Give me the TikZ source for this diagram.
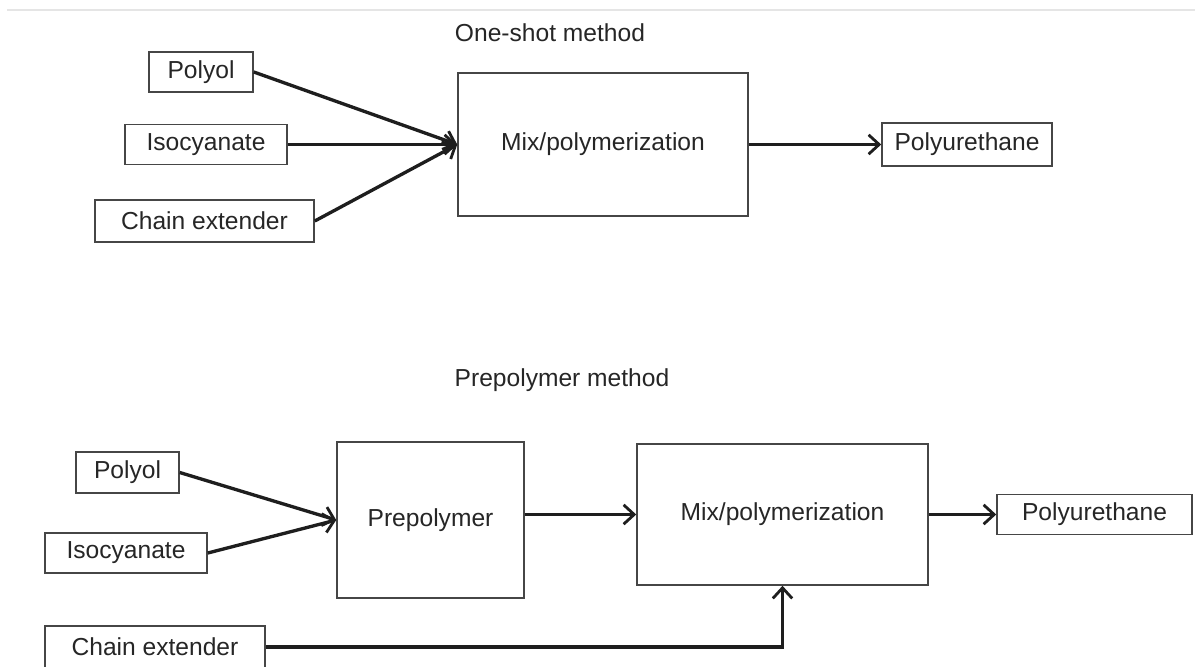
\documentclass[tikz,border=0pt]{standalone}
\usepackage{fontspec}
\setmainfont{Liberation Sans}
\usepackage{tikz}
\usetikzlibrary{arrows.meta, positioning}
\definecolor{boxline}{RGB}{70, 70, 70}
\definecolor{arrowline}{RGB}{30, 30, 30}

\begin{document}
\begin{tikzpicture}[
	x=0.02cm, y=-0.02cm,
	block/.style={rectangle, draw=boxline, line width=0.9pt, fill=white, inner sep=0pt, font=\fontsize{14}{16}\selectfont, text=black!85},
	title/.style={font=\fontsize{14}{16}\selectfont, text=black!85},
	flow/.style={draw=arrowline, line width=1.9pt, -{Straight Barb[length=6pt, width=11pt, line width=1.6pt]}}
	]
	\useasboundingbox (0,0) rectangle (1195,666);
	% thin rule at the top
	\draw[black!10, line width=1.2pt] (7,10) -- (1195,10);
	
	% One-shot method
	\node[title] (t1) at (550,33) {One-shot method};
	\node[block, minimum width=2.08cm, minimum height=0.8cm] (pol1) at (201,72) {Polyol};
	\node[block, minimum width=3.24cm, minimum height=0.8cm] (iso1) at (206,144.5) {Isocyanate};
	\node[block, minimum width=4.38cm, minimum height=0.84cm] (ext1) at (204.5,221) {Chain extender};
	\node[block, minimum width=5.8cm, minimum height=2.86cm] (mix1) at (603,144.5) {Mix/polymerization};
	\node[block, minimum width=3.4cm, minimum height=0.86cm] (pu1) at (967,144.5) {Polyurethane};
	
	\draw[flow] (pol1.east) -- (mix1.west);
	\draw[flow] (iso1.east) -- (mix1.west);
	\draw[flow] (ext1.east) -- (mix1.west);
	\draw[flow] (mix1.east) -- (pu1.west);
	
	% Prepolymer method
	\node[title] (t2) at (562,380) {Prepolymer method};
	\node[block, minimum width=2.06cm, minimum height=0.82cm] (pol2) at (127.5,472.5) {Polyol};
	\node[block, minimum width=3.24cm, minimum height=0.8cm] (iso2) at (126,553) {Isocyanate};
	\node[block, minimum width=3.74cm, minimum height=3.12cm] (pre) at (430.5,520) {Prepolymer};
	\node[block, minimum width=5.82cm, minimum height=2.82cm] (mix2) at (782.5,514.5) {Mix/polymerization};
	\node[block, minimum width=3.9cm, minimum height=0.8cm] (pu2) at (1094.5,514.5) {Polyurethane};
	\node[block, minimum width=4.4cm, minimum height=0.84cm] (ext2) at (155,647) {Chain extender};
	
	\draw[flow] (pol2.east) -- (pre.west);
	\draw[flow] (iso2.east) -- (pre.west);
	\draw[flow] (pre.east |- mix2.west) -- (mix2.west);
	\draw[flow] (mix2.east) -- (pu2.west);
	\draw[flow] (ext2.east) -| (mix2.south);
\end{tikzpicture}
\end{document}
